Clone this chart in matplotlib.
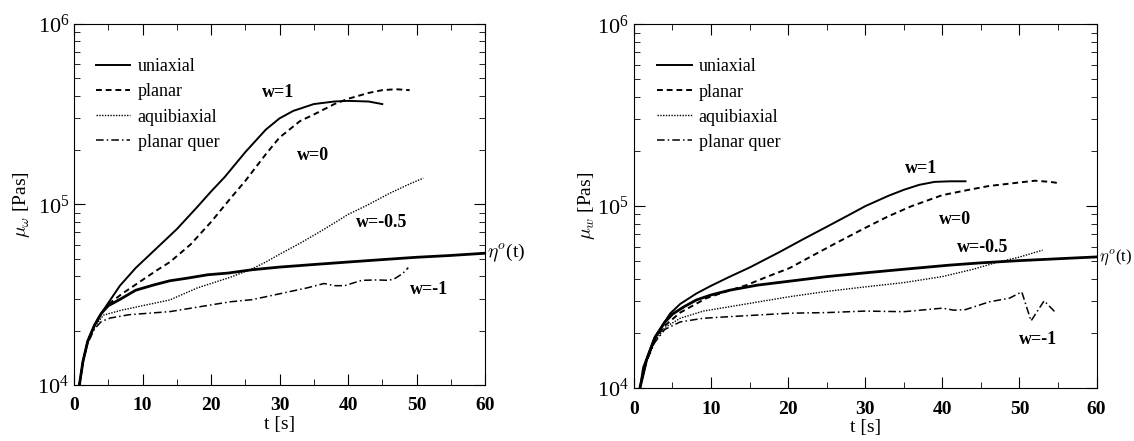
import matplotlib
matplotlib.use("Agg")
from matplotlib import pyplot as plt

plt.rcParams['font.family'] = ['Liberation Serif', 'DejaVu Serif']
plt.rcParams['mathtext.fontset'] = 'cm'

# linkes Diagramm
t_uni_l = [0.78, 1.3, 2, 3, 4, 5, 6.7, 9, 12, 15, 18, 20, 22, 25, 28, 30, 32, 35, 38, 40, 43, 45]
v_uni_l = [1.0e4, 1.35e4, 1.75e4, 2.15e4, 2.5e4, 2.85e4, 3.55e4, 4.45e4, 5.7e4, 7.3e4, 9.7e4,
           1.18e5, 1.42e5, 1.95e5, 2.6e5, 3.0e5, 3.3e5, 3.6e5, 3.72e5, 3.75e5, 3.72e5, 3.6e5]
t_pla_l = [0.78, 1.3, 2, 3, 4, 5, 7, 9, 12, 14, 17, 20, 23, 25, 28, 30, 33, 35, 38, 40, 43, 45, 47, 49]
v_pla_l = [1.0e4, 1.35e4, 1.75e4, 2.15e4, 2.5e4, 2.8e4, 3.2e4, 3.6e4, 4.3e4, 4.8e4, 6.0e4, 8.0e4,
           1.1e5, 1.35e5, 1.9e5, 2.35e5, 2.9e5, 3.15e5, 3.6e5, 3.85e5, 4.15e5, 4.3e5, 4.35e5, 4.3e5]
t_aqu_l = [0.78, 1.3, 2, 3, 4.3, 7, 10, 14, 18, 22.8, 26, 28, 30, 33, 36, 40, 43, 46, 49, 51]
v_aqu_l = [1.0e4, 1.35e4, 1.75e4, 2.1e4, 2.44e4, 2.6e4, 2.75e4, 2.96e4, 3.45e4, 3.95e4, 4.4e4,
           4.8e4, 5.3e4, 6.1e4, 7.1e4, 8.8e4, 1.0e5, 1.15e5, 1.3e5, 1.4e5]
t_que_l = [0.78, 1.3, 2, 3, 4, 5.3, 8, 11, 14, 18, 22.8, 26, 30, 34, 36.5, 38, 39.5, 42, 44.2, 46, 46.9, 48, 48.8]
v_que_l = [1.0e4, 1.35e4, 1.7e4, 2.05e4, 2.25e4, 2.35e4, 2.45e4, 2.5e4, 2.55e4, 2.7e4, 2.89e4,
           2.97e4, 3.2e4, 3.45e4, 3.65e4, 3.55e4, 3.55e4, 3.8e4, 3.82e4, 3.8e4, 3.9e4, 4.15e4, 4.47e4]
t_eta_l = [0.78, 1.3, 2, 3, 4, 5, 6.7, 9, 11.6, 14, 16.4, 19.5, 22.5, 26, 30, 35, 40, 45, 50, 55, 60]
v_eta_l = [1.0e4, 1.35e4, 1.75e4, 2.15e4, 2.5e4, 2.75e4, 2.98e4, 3.35e4, 3.58e4, 3.78e4, 3.9e4,
           4.08e4, 4.17e4, 4.35e4, 4.5e4, 4.65e4, 4.8e4, 4.95e4, 5.1e4, 5.22e4, 5.37e4]

# rechtes Diagramm
t_uni_r = [0.78, 1.2, 1.64, 2.7, 4.7, 6, 8.1, 10, 12.4, 15, 18.9, 22, 25, 28, 30, 33, 35, 37, 39, 41, 43]
v_uni_r = [1.0e4, 1.3e4, 1.45e4, 1.91e4, 2.57e4, 2.9e4, 3.31e4, 3.65e4, 4.09e4, 4.6e4, 5.6e4,
           6.6e4, 7.7e4, 9.0e4, 1.0e5, 1.14e5, 1.23e5, 1.31e5, 1.36e5, 1.37e5, 1.37e5]
t_pla_r = [0.78, 1.64, 2.7, 4, 6, 9.4, 12, 14.6, 17, 20.2, 23, 26, 30, 33, 36, 40, 43, 46, 50, 52, 54, 55]
v_pla_r = [1.0e4, 1.42e4, 1.85e4, 2.2e4, 2.6e4, 3.12e4, 3.4e4, 3.68e4, 4.05e4, 4.57e4, 5.3e4,
           6.2e4, 7.6e4, 8.8e4, 1.0e5, 1.15e5, 1.22e5, 1.29e5, 1.35e5, 1.38e5, 1.36e5, 1.34e5]
t_aqu_r = [0.78, 1.64, 2.7, 4, 6, 9, 12.4, 16, 20.2, 25, 30, 35, 40, 44, 47, 50, 53]
v_aqu_r = [1.0e4, 1.4e4, 1.8e4, 2.15e4, 2.42e4, 2.65e4, 2.8e4, 2.97e4, 3.18e4, 3.4e4, 3.6e4,
           3.8e4, 4.1e4, 4.5e4, 4.9e4, 5.25e4, 5.73e4]
t_que_r = [0.78, 1.64, 2.7, 4, 6, 9, 12.4, 16, 20.2, 25, 30, 35, 38, 40, 41.5, 43, 46.1, 48.7,
           50.3, 51.5, 53.2, 54.8]
v_que_r = [1.0e4, 1.4e4, 1.78e4, 2.1e4, 2.31e4, 2.42e4, 2.47e4, 2.52e4, 2.58e4, 2.6e4, 2.65e4,
           2.63e4, 2.7e4, 2.75e4, 2.68e4, 2.7e4, 2.98e4, 3.12e4, 3.38e4, 2.34e4, 3.02e4, 2.57e4]
t_eta_r = [0.78, 1.64, 2.7, 4, 5, 6.5, 8.1, 10, 12.4, 16, 20.2, 25, 30, 35, 40.9, 45, 50, 55, 60]
v_eta_r = [1.0e4, 1.43e4, 1.88e4, 2.3e4, 2.55e4, 2.8e4, 3.05e4, 3.25e4, 3.45e4, 3.68e4, 3.87e4,
           4.1e4, 4.3e4, 4.5e4, 4.74e4, 4.88e4, 5.02e4, 5.14e4, 5.26e4]

labels = ['uniaxial', 'planar', 'aquibiaxial', 'planar quer']
w_texts = ['w=1', 'w=0', 'w=-0.5', 'w=-1']
w_pos_l = [(27.4, 4.15e5), (32.5, 1.88e5), (41.2, 7.9e4), (49.1, 3.36e4)]
w_pos_r = [(35.1, 1.62e5), (39.6, 8.4e4), (41.9, 5.9e4), (49.9, 1.84e4)]

fig = plt.figure(figsize=(11.34, 4.41), dpi=100)
ax1 = fig.add_axes([0.0653, 0.127, 0.3624, 0.8186])
ax2 = fig.add_axes([0.559, 0.120, 0.408, 0.825])

panels = [
    (ax1, [(t_uni_l, v_uni_l), (t_pla_l, v_pla_l), (t_aqu_l, v_aqu_l), (t_que_l, v_que_l)],
     (t_eta_l, v_eta_l), w_pos_l, r'$\mu_\omega$ [Pas]', (0.036, 0.925), 4, 14),
    (ax2, [(t_uni_r, v_uni_r), (t_pla_r, v_pla_r), (t_aqu_r, v_aqu_r), (t_que_r, v_que_r)],
     (t_eta_r, v_eta_r), w_pos_r, r'$\mu_w$ [Pas]', 0, 12),
]
panels[1] = panels[1][:5] + ((0.035, 0.926), 0, 12)
styles = [dict(ls='-', lw=1.4), dict(ls=(0, (3, 2)), lw=1.4),
          dict(ls=(0, (1, 1)), lw=1.0), dict(ls=(0, (5, 2, 1, 2)), lw=1.1)]

for ax, series, eta, wpos, ylab, lpos, ypad, etasize in panels:
    for (t, v), st, lab in zip(series, styles, labels):
        ax.plot(t, v, color='black', label=lab, **st)
    ax.plot(eta[0], eta[1], color='black', lw=2.0)
    ax.set_yscale('log')
    ax.set_xlim(0, 60)
    ax.set_ylim(1e4, 1e6)
    ax.set_xticks([0, 10, 20, 30, 40, 50, 60])
    ax.set_xticks(range(5, 60, 10), minor=True)
    ax.tick_params(which='both', direction='in', top=True, right=True)
    ax.tick_params(axis='x', labelsize=14, pad=9)
    ax.tick_params(axis='y', labelsize=16)
    ax.tick_params(which='major', length=8)
    ax.tick_params(which='minor', length=4)
    for lbl in ax.get_xticklabels():
        lbl.set_fontweight('bold')
    ax.set_xlabel('t [s]', fontsize=14, labelpad=1)
    ax.set_ylabel(ylab, fontsize=14, labelpad=ypad)
    ax.legend(loc='upper left', frameon=False, fontsize=13, handlelength=1.9,
              handletextpad=0.4, labelspacing=0.45, borderaxespad=0, bbox_to_anchor=lpos)
    for txt, (x, y) in zip(w_texts, wpos):
        ax.text(x, y, txt, fontsize=13, va='center', fontweight='bold')
    ax.text(60.3, eta[1][-1], r'$\eta^o$(t)', fontsize=etasize, va='center', clip_on=False)

fig.savefig('out.png', dpi=100)
